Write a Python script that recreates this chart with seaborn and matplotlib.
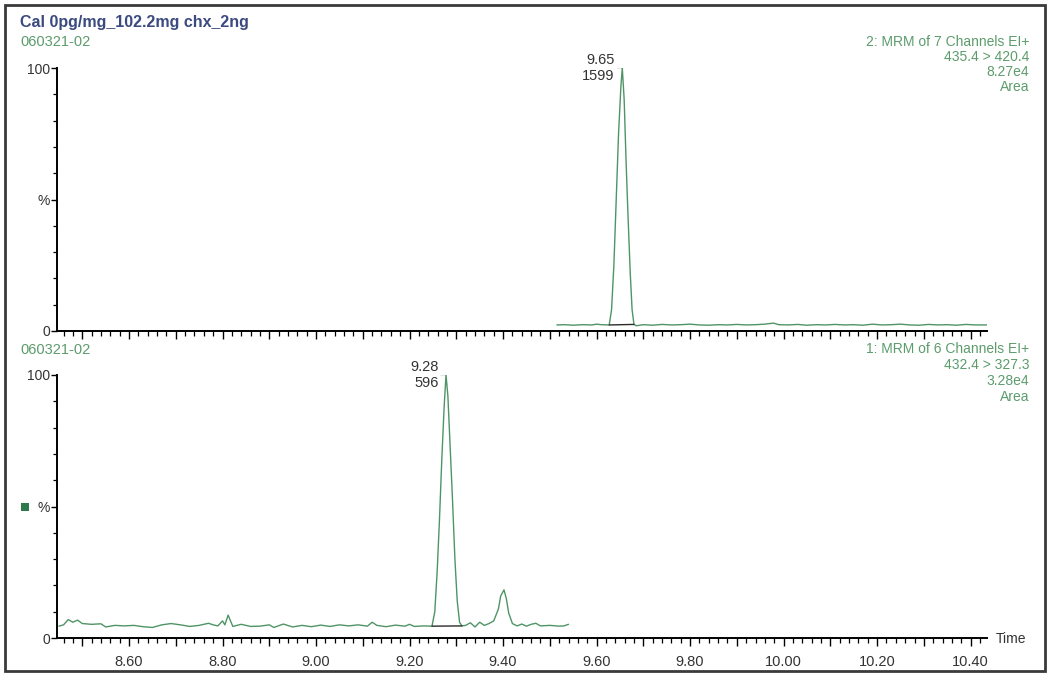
import numpy as np
import pandas as pd
import matplotlib
matplotlib.use("Agg")
import matplotlib.pyplot as plt
import seaborn as sns
from matplotlib.ticker import MultipleLocator, FuncFormatter
from matplotlib.patches import Rectangle

# chromatogram traces (time in min, intensity in %)
top_time = [9.515, 9.53, 9.55, 9.57, 9.59, 9.60, 9.61, 9.627,
            9.632, 9.637, 9.642, 9.647, 9.652, 9.655, 9.659, 9.663, 9.667, 9.672, 9.676, 9.680,
            9.685, 9.70, 9.72, 9.74, 9.76, 9.78, 9.80, 9.82, 9.84, 9.86, 9.88, 9.90, 9.92,
            9.94, 9.96, 9.978, 9.99, 10.01, 10.03, 10.05, 10.07, 10.09, 10.11, 10.13, 10.15,
            10.17, 10.19, 10.21, 10.23, 10.25, 10.27, 10.29, 10.31, 10.33, 10.35, 10.37,
            10.39, 10.41, 10.435]
top_pct = [2.3, 2.4, 2.2, 2.4, 2.3, 2.6, 2.4, 2.3,
           8, 25, 50, 75, 93, 100, 88, 65, 45, 22, 8, 2.5,
           2.0, 2.4, 2.2, 2.5, 2.3, 2.4, 2.6, 2.3, 2.2, 2.4, 2.3, 2.5, 2.3,
           2.4, 2.6, 3.0, 2.4, 2.3, 2.5, 2.2, 2.4, 2.3, 2.5, 2.3, 2.4,
           2.2, 2.6, 2.3, 2.4, 2.6, 2.3, 2.2, 2.5, 2.3, 2.4, 2.2,
           2.5, 2.3, 2.3]

bot_time = [8.45, 8.46, 8.47, 8.48, 8.49, 8.50, 8.52, 8.54, 8.55, 8.57, 8.59, 8.61,
            8.63, 8.65, 8.67, 8.69, 8.71, 8.73, 8.75, 8.77, 8.78, 8.79, 8.80, 8.805,
            8.812, 8.822, 8.84, 8.86, 8.88, 8.90, 8.91, 8.93, 8.95, 8.97, 8.99, 9.01,
            9.03, 9.05, 9.07, 9.09, 9.11, 9.12, 9.13, 9.15, 9.17, 9.19, 9.20, 9.21,
            9.23, 9.248,
            9.254, 9.259, 9.264, 9.269, 9.274, 9.278, 9.282, 9.287, 9.292, 9.297, 9.302,
            9.307, 9.312,
            9.32, 9.33, 9.34, 9.35, 9.36, 9.37, 9.38, 9.39, 9.395, 9.402, 9.407, 9.412,
            9.42, 9.43, 9.44, 9.45, 9.46, 9.47, 9.48, 9.50, 9.52, 9.53, 9.54]
bot_pct = [4.5, 5.0, 7.0, 6.0, 6.8, 5.5, 5.2, 5.4, 4.2, 4.8, 4.6, 4.8,
           4.3, 4.0, 5.0, 5.5, 5.0, 4.4, 4.8, 5.6, 5.0, 4.6, 6.5, 5.0,
           8.7, 4.4, 5.2, 4.4, 4.5, 5.0, 4.0, 5.3, 4.2, 4.8, 4.3, 4.9,
           4.4, 5.0, 4.6, 5.0, 4.5, 6.0, 4.8, 4.3, 4.9, 4.5, 5.2, 4.4,
           4.6, 4.5,
           10, 25, 45, 68, 88, 100, 92, 72, 52, 30, 14,
           6, 4.6,
           4.8, 5.8, 4.2, 6.0, 4.8, 5.5, 6.5, 11, 16, 18.3, 15, 9.5,
           5.5, 4.6, 5.3, 4.5, 5.2, 5.6, 4.6, 4.8, 4.5, 4.6, 5.2]

top_peak = {"rt": "9.65", "height": "1599", "start": 9.627, "end": 9.680, "apex": 9.655}
bot_peak = {"rt": "9.28", "height": "596", "start": 9.248, "end": 9.312, "apex": 9.278}

top_info = ["2: MRM of 7 Channels EI+", "435.4 > 420.4", "8.27e4", "Area"]
bot_info = ["1: MRM of 6 Channels EI+", "432.4 > 327.3", "3.28e4", "Area"]
sample_id = "060321-02"
title = "Cal 0pg/mg_102.2mg chx_2ng"

sns.set_theme(style="white")
plt.rcParams["font.family"] = ["Liberation Sans", "DejaVu Sans"]

trace_col = "#4f9466"
label_col = "#5c9c6c"
text_col = "#333333"

W, H = 1051, 677
fig = plt.figure(figsize=(W / 100, H / 100), dpi=100)

ax_left = 57 / W
ax_w = (987 - 57) / W
ax_top = fig.add_axes([ax_left, 1 - 331 / H, ax_w, 263 / H])
ax_bot = fig.add_axes([ax_left, 1 - 638 / H, ax_w, 263 / H])

xmin, xmax = 8.446, 10.435


def fmt_x(v, pos):
    k = int(round(v * 10))
    return f"{v:.2f}" if k % 2 == 0 else ""


def fmt_y(v, pos):
    return {0: "0", 50: "%", 100: "100"}.get(int(round(v)), "")


for ax, t, p, peak in [(ax_top, top_time, top_pct, top_peak),
                       (ax_bot, bot_time, bot_pct, bot_peak)]:
    df = pd.DataFrame({"time": t, "pct": p})
    sns.lineplot(data=df, x="time", y="pct", ax=ax, color=trace_col, linewidth=1.0)
    # integration baseline under the peak
    base_y = np.interp([peak["start"], peak["end"]], t, p)
    ax.plot([peak["start"], peak["end"]], base_y, color="#2b2b2b", linewidth=1.0)
    # peak bracket and labels
    ax.plot([peak["apex"] - 0.012, peak["apex"]], [100.5, 100.5], color="#2b2b2b", linewidth=0.9)
    ax.text(peak["apex"] - 0.016, 103, peak["rt"], ha="right", va="center",
            fontsize=10.5, color=text_col, clip_on=False)
    ax.text(peak["apex"] - 0.016, 97, peak["height"], ha="right", va="center",
            fontsize=10.5, color=text_col, clip_on=False)

    ax.set_xlim(xmin, xmax)
    ax.set_ylim(0, 100)
    ax.set_facecolor("white")
    for s in ["top", "right"]:
        ax.spines[s].set_visible(False)
    for s in ["left", "bottom"]:
        ax.spines[s].set_color("black")
        ax.spines[s].set_linewidth(1.4)
    ax.xaxis.set_major_locator(MultipleLocator(0.1))
    ax.xaxis.set_minor_locator(MultipleLocator(0.02))
    ax.yaxis.set_major_locator(MultipleLocator(50))
    ax.yaxis.set_minor_locator(MultipleLocator(10))
    ax.yaxis.set_major_formatter(FuncFormatter(fmt_y))
    ax.tick_params(axis="x", which="major", direction="out", length=6, width=1.0,
                   color="black", labelsize=10.5, labelcolor=text_col, pad=6, bottom=True)
    ax.tick_params(axis="x", which="minor", direction="out", length=3.5, width=0.9,
                   color="black", bottom=True)
    ax.tick_params(axis="y", which="major", direction="out", length=4, width=1.0,
                   color="black", labelsize=10, labelcolor=text_col, pad=1, left=True)
    ax.tick_params(axis="y", which="minor", direction="out", length=3, width=0.9,
                   color="black", left=True)
    ax.set_xlabel("")
    ax.set_ylabel("")

ax_top.xaxis.set_major_formatter(FuncFormatter(lambda v, pos: ""))
ax_bot.xaxis.set_major_formatter(FuncFormatter(fmt_x))

# header texts
fig.text(20 / W, 1 - 22 / H, title, ha="left", va="center", fontsize=11.5,
         fontweight="bold", color="#3b4a80")
fig.text(20 / W, 1 - 42 / H, sample_id, ha="left", va="center", fontsize=10.5, color=label_col)
fig.text(20 / W, 1 - 350 / H, sample_id, ha="left", va="center", fontsize=10.5, color=label_col)

for i, line in enumerate(top_info):
    fig.text(1029 / W, 1 - (42 + 15 * i) / H, line, ha="right", va="center",
             fontsize=10, color=label_col)
for i, line in enumerate(bot_info):
    fig.text(1029 / W, 1 - (349 + 16 * i) / H, line, ha="right", va="center",
             fontsize=10, color=label_col)

fig.text(996 / W, 1 - 639 / H, "Time", ha="left", va="center", fontsize=10, color=text_col)

# small channel marker square in the lower panel
fig.patches.append(Rectangle((21 / W, 1 - 511 / H), 8 / W, 8 / H, transform=fig.transFigure,
                             facecolor="#2e7a4c", edgecolor="none"))

# outer frame
fig.patches.append(Rectangle((5 / W, 6 / H), 1040 / W, 666 / H, transform=fig.transFigure,
                             facecolor="none", edgecolor="#3a3a3a", linewidth=2.0))

fig.savefig("out.png", dpi=100, facecolor="white")
